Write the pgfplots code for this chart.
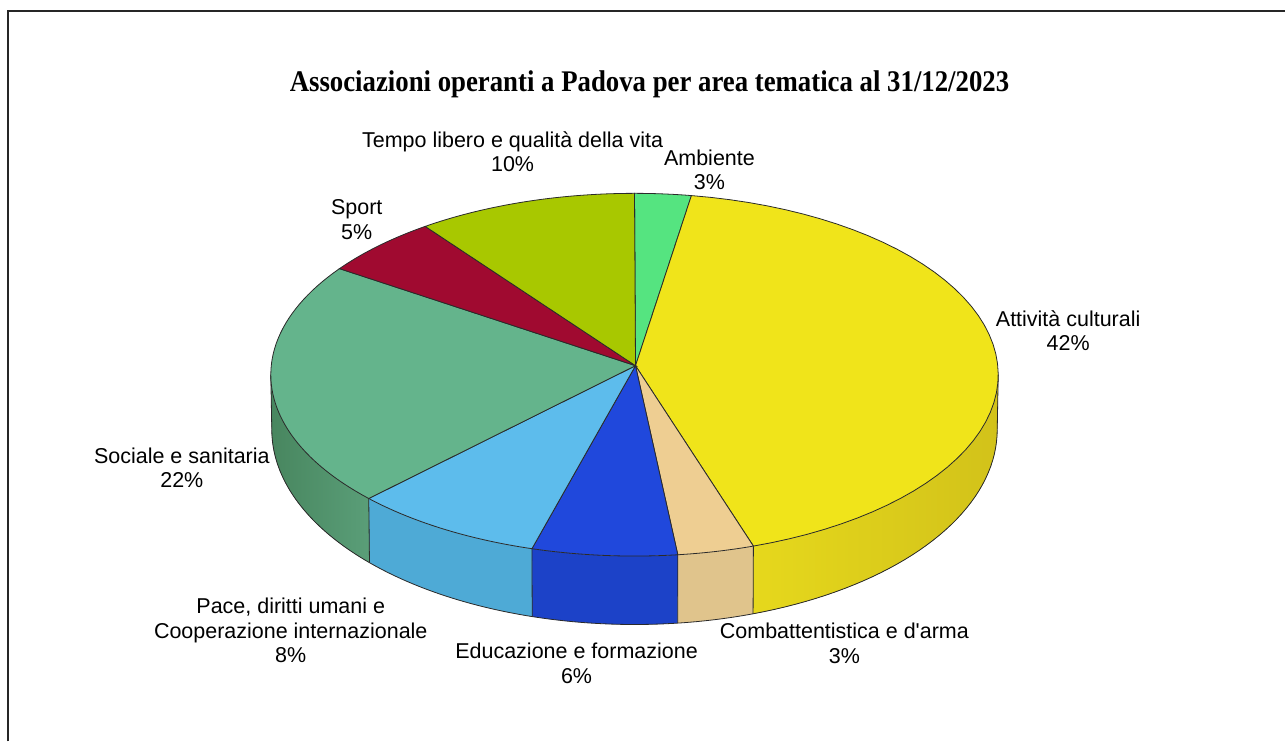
\documentclass[border=0pt]{standalone}
\usepackage{pgfplots}
\pgfplotsset{compat=1.18}
\usepackage{pgfplotstable}
\usepgfplotslibrary{fillbetween}
\usepackage{graphicx}
\usepackage{fontspec}
\setmainfont{Liberation Sans}
\newfontfamily\titlefont{Liberation Serif}

\definecolor{cAmb}{HTML}{55E480}
\definecolor{cAtt}{HTML}{F0E41A}
\definecolor{cComb}{HTML}{EECE92}
\definecolor{cEdu}{HTML}{2048DC}
\definecolor{cPace}{HTML}{5DBCEC}
\definecolor{cSoc}{HTML}{64B48C}
\definecolor{cSport}{HTML}{A00A30}
\definecolor{cTempo}{HTML}{A8C800}
\definecolor{wAttL}{HTML}{E6D81C}
\definecolor{wAttR}{HTML}{D2C21A}
\definecolor{wComb}{HTML}{E0C48C}
\definecolor{wEdu}{HTML}{1C42C8}
\definecolor{wPace}{HTML}{4EAAD6}
\definecolor{wSocL}{HTML}{48865F}
\definecolor{wSocR}{HTML}{5A9E78}
\definecolor{edge}{HTML}{2A2A2A}

% share of each thematic area (percent)
\pgfplotstableread{
area value
Ambiente 2.5
Attivita 42.2
Combattentistica 3.4
Educazione 6.45
Pace 8.49
Sociale 21.9
Sport 5.3
Tempo 9.76
}\piedata

\def\cumsum{0}
\pgfplotsforeachungrouped \i in {0,...,7}{%
  \pgfplotstablegetelem{\i}{value}\of\piedata
  \pgfmathsetmacro\tmpS{\cumsum*3.6}%
  \pgfmathsetmacro\cumsum{\cumsum+\pgfplotsretval}%
  \pgfmathsetmacro\tmpE{\cumsum*3.6}%
  \expandafter\let\csname ps\i\endcsname\tmpS
  \expandafter\let\csname pe\i\endcsname\tmpE
}
\newcommand\PS[1]{\csname ps#1\endcsname}
\newcommand\PE[1]{\csname pe#1\endcsname}

% geometry (pixel units)
\def\cx{635}\def\ax{364}\def\cyT{375}\def\bT{181.5}
\def\axB{363}\def\cyB{430}\def\bB{195}

\newcommand\wall[4]{%
  \addplot[draw=none, name path=wt#4, domain=#1:#2, samples=40, variable=\t]
    ({\cx+\ax*sin(\t)},{\cyT-\bT*cos(\t)});
  \addplot[draw=edge, line width=0.4pt, name path=wb#4, domain=#1:#2, samples=40, variable=\t]
    ({\cx+\axB*sin(\t)},{\cyB-\bB*cos(\t)});
  \addplot[#3, draw=none] fill between[of=wt#4 and wb#4];
}
\newcommand\vedge[1]{%
  \addplot[draw=edge, line width=0.4pt, domain=0:1, samples=2, variable=\u]
    ({\cx+(\ax-\u)*sin(#1)},{\cyT+55*\u-(\bT+13.5*\u)*cos(#1)});
}
\newcommand\topface[3]{%
  \addplot[fill=#3, draw=edge, line width=0.4pt, domain=#1:#2, samples=50, variable=\t]
    ({\cx+\ax*sin(\t)},{\cyT-\bT*cos(\t)}) -- (636,366) -- cycle;
}

\begin{document}
\begin{tikzpicture}
\begin{axis}[
  hide axis, scale only axis, width=643pt, height=371pt,
  xmin=0, xmax=1286, ymin=0, ymax=742, y dir=reverse,
  clip=false]
\path (axis cs:0,0) rectangle (axis cs:1286,742);
\draw[line width=1pt, color=black!85] (axis cs:8.5,742) -- (axis cs:8.5,11.5) -- (axis cs:1286,11.5);

% side walls
\wall{90}{\PE{1}}{left color=wAttL, right color=wAttR}{a}
\wall{\PS{2}}{\PE{2}}{fill=wComb}{b}
\wall{\PS{3}}{\PE{3}}{fill=wEdu}{c}
\wall{\PS{4}}{\PE{4}}{fill=wPace}{d}
\wall{\PS{5}}{270}{left color=wSocL, right color=wSocR}{e}
\vedge{90}\vedge{\PE{1}}\vedge{\PE{2}}\vedge{\PE{3}}\vedge{\PE{4}}\vedge{270}

% top faces
\topface{\PS{0}}{\PE{0}}{cAmb}
\topface{\PS{1}}{\PE{1}}{cAtt}
\topface{\PS{2}}{\PE{2}}{cComb}
\topface{\PS{3}}{\PE{3}}{cEdu}
\topface{\PS{4}}{\PE{4}}{cPace}
\topface{\PS{5}}{\PE{5}}{cSoc}
\topface{\PS{6}}{\PE{6}}{cSport}
\topface{\PS{7}}{\PE{7}}{cTempo}

% title
\node[anchor=base] at (axis cs:650,92)
  {\resizebox{360pt}{\height}{\titlefont\bfseries\fontsize{15}{18}\selectfont Associazioni operanti a Padova per area tematica al 31/12/2023}};

% labels
\tikzset{lab/.style={align=center, font=\fontsize{10.75}{12.3}\selectfont}}
\node[lab] at (axis cs:513,152) {Tempo libero e qualità della vita\\10\%};
\node[lab] at (axis cs:710,170) {Ambiente\\3\%};
\node[lab] at (axis cs:357,220) {Sport\\5\%};
\node[lab] at (axis cs:1069,331) {Attività culturali\\42\%};
\node[lab] at (axis cs:182,468) {Sociale e sanitaria\\22\%};
\node[lab] at (axis cs:291,631) {Pace, diritti umani e\\Cooperazione internazionale\\8\%};
\node[lab] at (axis cs:577,664) {Educazione e formazione\\6\%};
\node[lab] at (axis cs:845,644) {Combattentistica e d\textquotesingle arma\\3\%};
\end{axis}
\end{tikzpicture}
\end{document}
